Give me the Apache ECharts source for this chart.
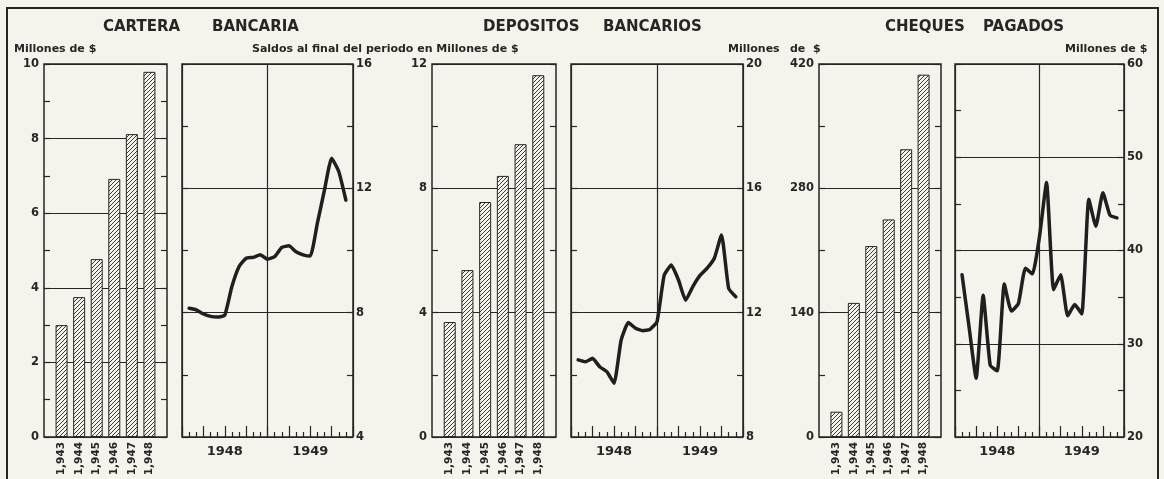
<!DOCTYPE html>
<html>
<head>
<meta charset="utf-8">
<title>Cartera, depositos y cheques</title>
<script src="https://cdn.jsdelivr.net/npm/echarts@6/dist/echarts.min.js"></script>
<style>
  html, body { margin: 0; padding: 0; background: #f5f3ec; }
  #chart { width: 1164px; height: 479px; }
</style>
</head>
<body>
<div id="chart"></div>
<script>
// datos anuales (barras)
var anios = [1943, 1944, 1945, 1946, 1947, 1948]
var carteraAnual = [3.0, 3.75, 4.77, 6.92, 8.12, 9.79]
var depositosAnual = [3.7, 5.37, 7.56, 8.4, 9.42, 11.64]
var chequesAnual = [28.5, 151, 215, 245, 324, 408]

// datos mensuales ene 1948 - nov 1949 (saldos al final del periodo)
var periodos = ['1948', '1949']
var carteraMensual = [8.14, 8.09, 7.96, 7.88, 7.86, 7.92, 8.84, 9.48, 9.75, 9.78, 9.86, 9.72,
  9.8, 10.1, 10.15, 9.96, 9.86, 9.82, 10.88, 11.95, 12.97, 12.54, 11.62]
var depositosMensual = [10.48, 10.42, 10.53, 10.26, 10.1, 9.73, 11.12, 11.68, 11.5, 11.42, 11.46, 11.71,
  13.2, 13.53, 13.05, 12.4, 12.84, 13.2, 13.43, 13.75, 14.5, 12.78, 12.51]
var chequesMensual = [37.4, 31.8, 26.3, 35.2, 27.7, 27.1, 36.4, 33.5, 34.3, 38.1, 37.5, 41.5,
  47.3, 35.8, 37.4, 33.0, 34.2, 33.2, 45.5, 42.6, 46.2, 43.8, 43.5]

var tinta = '#262626'
var fondo = '#f5f3ec'
var fuente = 'DejaVu Sans'

// rayado diagonal para las barras
function rayado() {
  var c = document.createElement('canvas')
  c.width = 4
  c.height = 4
  var ctx = c.getContext('2d')
  ctx.fillStyle = fondo
  ctx.fillRect(0, 0, 4, 4)
  ctx.strokeStyle = '#3a3a3a'
  ctx.lineWidth = 1
  ctx.beginPath()
  ctx.moveTo(-1, 5); ctx.lineTo(5, -1)
  ctx.moveTo(-1, 1); ctx.lineTo(1, -1)
  ctx.moveTo(3, 5); ctx.lineTo(5, 3)
  ctx.stroke()
  return c
}
var patron = rayado()

var paneles = [
  { left: 44, width: 123, tipo: 'barra', datos: carteraAnual, min: 0, max: 10, paso: 2 },
  { left: 182, width: 171, tipo: 'linea', datos: carteraMensual, min: 4, max: 16, paso: 4 },
  { left: 432, width: 124, tipo: 'barra', datos: depositosAnual, min: 0, max: 12, paso: 4 },
  { left: 571, width: 172, tipo: 'linea', datos: depositosMensual, min: 8, max: 20, paso: 4 },
  { left: 819, width: 122, tipo: 'barra', datos: chequesAnual, min: 0, max: 420, paso: 140 },
  { left: 955, width: 169, tipo: 'linea', datos: chequesMensual, min: 20, max: 60, paso: 10 }
]

var grid = [], xAxis = [], yAxis = [], series = []

paneles.forEach(function (p, i) {
  grid.push({
    left: p.left, width: p.width, top: 64, height: 373,
    show: true, borderColor: tinta, borderWidth: 1.5, backgroundColor: 'transparent'
  })

  // eje con etiquetas y lineas de division
  var yIdx = yAxis.length
  yAxis.push({
    gridIndex: i, type: 'value', min: p.min, max: p.max, interval: p.paso,
    position: p.tipo === 'barra' ? 'left' : 'right',
    axisLine: { show: false }, axisTick: { show: false },
    splitLine: { show: true, lineStyle: { color: tinta, width: 1.1 } },
    axisLabel: {
      color: tinta, fontFamily: fuente, fontSize: 11.5, fontWeight: 'bold',
      margin: p.tipo === 'barra' ? 5 : 3
    }
  })
  // marcas cortas hacia adentro en ambos lados
  ;['left', 'right'].forEach(function (lado) {
    yAxis.push({
      gridIndex: i, type: 'value', min: p.min, max: p.max, interval: p.paso / 2, position: lado,
      axisLine: { show: false }, splitLine: { show: false }, axisLabel: { show: false },
      axisTick: { show: true, inside: true, length: 6, lineStyle: { color: tinta, width: 1.2 } }
    })
  })

  if (p.tipo === 'barra') {
    var xIdx = xAxis.length
    xAxis.push({
      gridIndex: i, type: 'value', position: 'bottom', min: 1942, max: 1949, interval: 1,
      axisLine: { show: false }, axisTick: { show: false }, splitLine: { show: false },
      axisLabel: {
        rotate: 90, margin: 5, color: tinta, fontFamily: fuente, fontSize: 10.5, fontWeight: 'bold',
        formatter: function (v) {
          if (v < 1943 || v > 1948) return ''
          return '1,' + String(v).slice(1)
        }
      }
    })
    series.push({
      type: 'bar', xAxisIndex: xIdx, yAxisIndex: yIdx, barWidth: 12,
      data: anios.map(function (a, k) { return [a, p.datos[k]] }),
      itemStyle: { color: { image: patron, repeat: 'repeat' }, borderColor: tinta, borderWidth: 1 }
    })
  } else {
    // años con division central
    xAxis.push({
      gridIndex: i, type: 'category', position: 'bottom', data: periodos, boundaryGap: true,
      axisLine: { show: false }, axisTick: { show: false },
      splitLine: { show: true, interval: 0, lineStyle: { color: tinta, width: 1.2 } },
      axisLabel: { margin: 8, color: tinta, fontFamily: fuente, fontSize: 13, fontWeight: 'bold' }
    })
    // marcas de meses (largas cada trimestre)
    var mIdx = xAxis.length
    xAxis.push({
      gridIndex: i, type: 'value', position: 'bottom', min: 0, max: 24, interval: 3,
      axisLine: { show: false },
      axisTick: { show: true, inside: true, length: 11, lineStyle: { color: tinta, width: 1.2 } },
      minorTick: { show: true, splitNumber: 3, length: 5, lineStyle: { color: tinta, width: 1.2 } },
      axisLabel: { show: false }, splitLine: { show: false }
    })
    series.push({
      type: 'line', xAxisIndex: mIdx, yAxisIndex: yIdx, showSymbol: false, smooth: 0.15, z: 5,
      data: p.datos.map(function (v, k) { return [k + 1, v] }),
      lineStyle: { color: '#1f1f1f', width: 3.5, join: 'round', cap: 'round' }
    })
  }
})

function texto(t, x, y, size, bold) {
  return {
    text: t, left: x, top: y, padding: 0,
    textStyle: { color: tinta, fontFamily: fuente, fontSize: size, fontWeight: bold ? 'bold' : 'normal' }
  }
}

var titulos = [
  texto('CARTERA', 103, 20, 15, true),
  texto('BANCARIA', 212, 20, 15, true),
  texto('DEPOSITOS', 483, 20, 15, true),
  texto('BANCARIOS', 603, 20, 15, true),
  texto('CHEQUES', 885, 20, 15, true),
  texto('PAGADOS', 983, 20, 15, true),
  texto('Millones de $', 14, 44, 11, true),
  texto('Saldos al final del periodo en Millones de $', 252, 44, 11, true),
  texto('Millones', 728, 44, 11, true),
  texto('de  $', 790, 44, 11, true),
  texto('Millones de $', 1065, 44, 11, true)
]

var chart = echarts.init(document.getElementById('chart'))
chart.setOption({
  animation: false,
  backgroundColor: fondo,
  title: titulos,
  grid: grid,
  xAxis: xAxis,
  yAxis: yAxis,
  series: series,
  graphic: [{
    type: 'rect', shape: { x: 7, y: 8, width: 1151, height: 490 },
    style: { fill: 'transparent', stroke: tinta, lineWidth: 2 }, silent: true
  }]
})
</script>
</body>
</html>
